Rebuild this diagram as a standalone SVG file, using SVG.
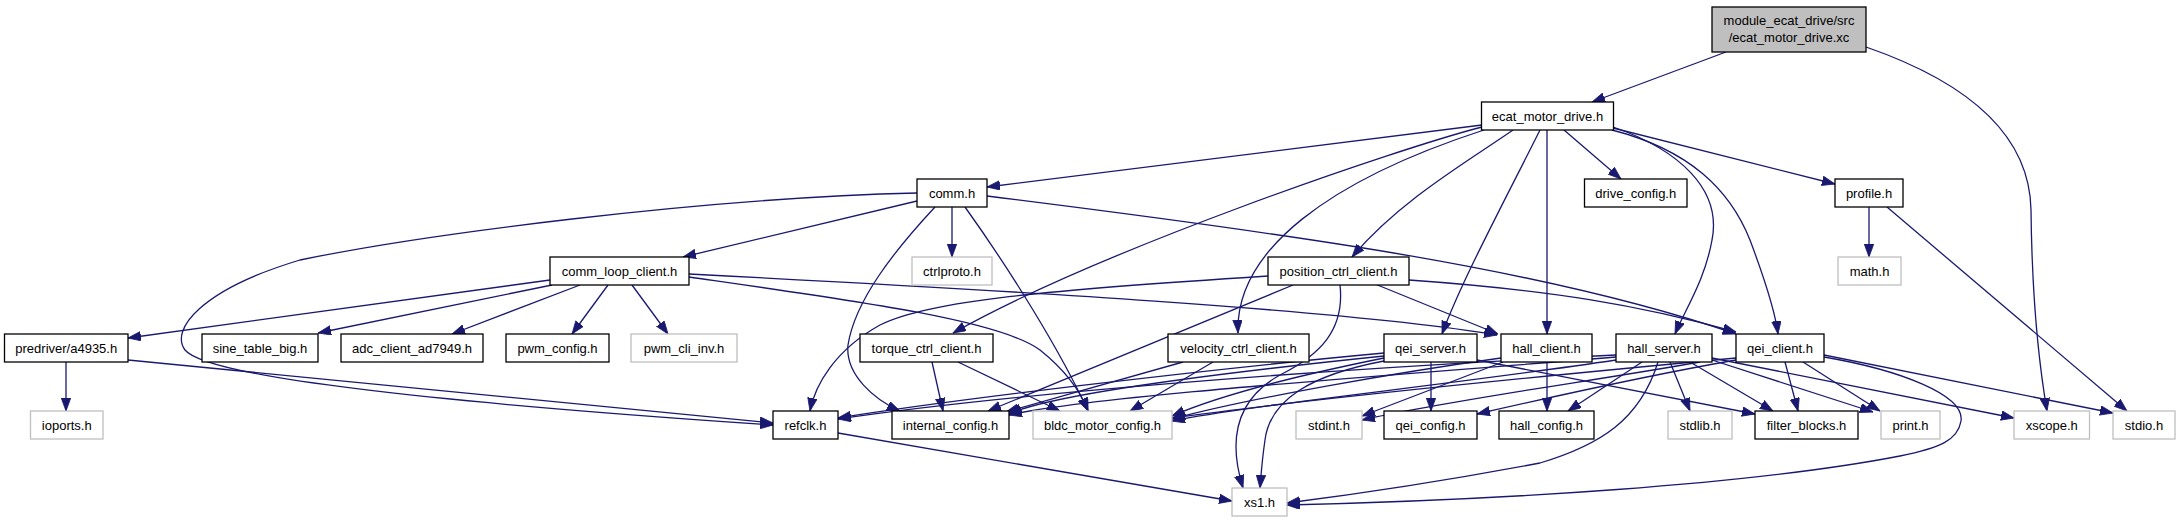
<svg xmlns="http://www.w3.org/2000/svg" width="2180" height="523" viewBox="0 0 2180 523">
<style>
.bg{fill:#ffffff}
.n rect{fill:#ffffff;stroke:#000000;stroke-width:1.3}
.x rect{fill:#ffffff;stroke:#bfbfbf;stroke-width:1.3}
.root rect{fill:#bfbfbf;stroke:#000000;stroke-width:1.3}
text{font-family:"Liberation Sans",Arial,Helvetica,sans-serif;font-size:13px;text-anchor:middle;fill:#000000}
#edges path{fill:none;stroke:#191970;stroke-width:1.3;marker-end:url(#ah)}
</style>
<defs>
<marker id="ah" markerUnits="userSpaceOnUse" markerWidth="14" markerHeight="10" refX="13" refY="4.75" orient="auto">
<path d="M0,0 L13,4.75 L0,9.5 z" fill="#191970" stroke="#191970" stroke-width="0.8"/>
</marker>
</defs>
<rect class="bg" x="0" y="0" width="2180" height="523"/>
<g id="edges">
<path d="M1726,52 L1592,102"/>
<path d="M1866,47 C1990,90 2030,150 2031,210 C2032,300 2040,370 2047,411"/>
<path d="M1482,125 L987,187"/>
<path d="M1564,130 L1621,179"/>
<path d="M1613,128 L1835,184"/>
<path d="M1513,130 C1470,160 1400,200 1352,257"/>
<path d="M1482,127 C1400,148 1100,250 953,333"/>
<path d="M1484,130 C1330,180 1235,250 1238,333"/>
<path d="M1540,130 C1505,200 1462,280 1442,334"/>
<path d="M1547,130 L1547,334"/>
<path d="M1613,127 C1680,150 1722,190 1712,240 C1705,280 1685,310 1675,334"/>
<path d="M1612,130 C1690,150 1730,190 1750,240 C1765,280 1775,310 1778,334"/>
<path d="M917,201 L683,257"/>
<path d="M952,207 L952,257"/>
<path d="M917,193 C700,198 420,235 300,260 C200,290 170,330 185,350 C205,375 400,400 773,425"/>
<path d="M935,207 C895,250 855,300 848,345 C845,375 875,400 900,411"/>
<path d="M965,207 C1010,270 1060,350 1088,411"/>
<path d="M987,196 C1300,235 1550,270 1736,334"/>
<path d="M1869,207 L1869,257"/>
<path d="M1887,207 L2127,411"/>
<path d="M550,280 L128,338"/>
<path d="M552,285 L318,333"/>
<path d="M580,285 L452,334"/>
<path d="M608,285 L572,334"/>
<path d="M632,285 L668,334"/>
<path d="M689,274 C1000,290 1350,310 1497,335"/>
<path d="M689,277 C850,300 1000,320 1040,350 C1065,370 1080,390 1088,411"/>
<path d="M1268,276 C1050,290 930,300 880,325 C835,350 815,385 810,411"/>
<path d="M1293,285 L988,411"/>
<path d="M1340,285 C1345,330 1320,355 1280,375 C1235,400 1228,440 1243,488"/>
<path d="M1375,284 L1498,334"/>
<path d="M1409,280 C1550,290 1640,305 1736,332"/>
<path d="M66,362 L66,411"/>
<path d="M128,360 L773,423"/>
<path d="M932,362 L943,411"/>
<path d="M958,362 L1060,411"/>
<path d="M1183,362 L1006,412"/>
<path d="M1213,362 L1130,411"/>
<path d="M1431,362 L1431,411"/>
<path d="M1477,360 L1755,414"/>
<path d="M1384,361 C1310,375 1270,400 1265,440 C1262,460 1261,475 1260,488"/>
<path d="M1384,353 C1200,370 950,400 838,418"/>
<path d="M1384,356 C1200,375 1050,395 1009,414"/>
<path d="M1384,358 C1300,375 1220,395 1172,416"/>
<path d="M1547,362 L1547,411"/>
<path d="M1503,362 L1362,416"/>
<path d="M1501,358 C1400,372 1250,398 1172,419"/>
<path d="M1616,355 C1300,370 1000,395 838,419"/>
<path d="M1616,357 C1400,375 1100,395 1009,415"/>
<path d="M1616,360 C1450,385 1250,405 1172,421"/>
<path d="M1700,362 C1600,380 1450,400 1362,420"/>
<path d="M1642,362 L1568,411"/>
<path d="M1658,362 C1640,420 1600,445 1540,463 C1450,480 1350,495 1287,503"/>
<path d="M1670,362 L1690,411"/>
<path d="M1690,362 L1773,411"/>
<path d="M1712,360 L1873,412"/>
<path d="M1712,358 L2014,418"/>
<path d="M1736,360 C1650,375 1560,395 1477,414"/>
<path d="M1736,358 C1500,380 1300,400 1172,418"/>
<path d="M1785,362 L1798,411"/>
<path d="M1803,362 L1880,411"/>
<path d="M1824,355 L2113,413"/>
<path d="M1824,357 C1900,370 1965,395 1961,421 C1958,440 1940,448 1900,456 C1750,485 1500,500 1287,505"/>
<path d="M838,433 L1232,501"/>
</g>
<g id="n_root" class="root"><rect x="1712" y="7" width="154" height="45"/><text x="1789" y="24.5">module_ecat_drive/src</text><text x="1789" y="41.5">/ecat_motor_drive.xc</text></g>
<g id="n_ecat_motor_drive" class="n"><rect x="1481.5" y="102" width="132" height="28"/><text x="1547.5" y="120.5">ecat_motor_drive.h</text></g>
<g id="n_comm" class="n"><rect x="917" y="179" width="70" height="28"/><text x="952" y="197.5">comm.h</text></g>
<g id="n_drive_config" class="n"><rect x="1584.5" y="179" width="102.5" height="28"/><text x="1635.75" y="197.5">drive_config.h</text></g>
<g id="n_profile" class="n"><rect x="1835" y="179" width="68" height="28"/><text x="1869" y="197.5">profile.h</text></g>
<g id="n_comm_loop_client" class="n"><rect x="550" y="257" width="139" height="28"/><text x="619.5" y="275.5">comm_loop_client.h</text></g>
<g id="n_ctrlproto" class="x"><rect x="912" y="257" width="80" height="28"/><text x="952" y="275.5">ctrlproto.h</text></g>
<g id="n_position_ctrl_client" class="n"><rect x="1268" y="257" width="141" height="28"/><text x="1338.5" y="275.5">position_ctrl_client.h</text></g>
<g id="n_math" class="x"><rect x="1838" y="257" width="63" height="28"/><text x="1869.5" y="275.5">math.h</text></g>
<g id="n_predriver" class="n"><rect x="4.5" y="334" width="123.5" height="28"/><text x="66.25" y="352.5">predriver/a4935.h</text></g>
<g id="n_sine_table_big" class="n"><rect x="202" y="334" width="116" height="28"/><text x="260" y="352.5">sine_table_big.h</text></g>
<g id="n_adc_client" class="n"><rect x="341" y="334" width="142" height="28"/><text x="412" y="352.5">adc_client_ad7949.h</text></g>
<g id="n_pwm_config" class="n"><rect x="506" y="334" width="103" height="28"/><text x="557.5" y="352.5">pwm_config.h</text></g>
<g id="n_pwm_cli_inv" class="x"><rect x="631" y="334" width="106" height="28"/><text x="684" y="352.5">pwm_cli_inv.h</text></g>
<g id="n_torque_ctrl_client" class="n"><rect x="860" y="334" width="133" height="28"/><text x="926.5" y="352.5">torque_ctrl_client.h</text></g>
<g id="n_velocity_ctrl_client" class="n"><rect x="1168" y="334" width="141" height="28"/><text x="1238.5" y="352.5">velocity_ctrl_client.h</text></g>
<g id="n_qei_server" class="n"><rect x="1384" y="334" width="93" height="28"/><text x="1430.5" y="352.5">qei_server.h</text></g>
<g id="n_hall_client" class="n"><rect x="1501" y="334" width="91" height="28"/><text x="1546.5" y="352.5">hall_client.h</text></g>
<g id="n_hall_server" class="n"><rect x="1616" y="334" width="96" height="28"/><text x="1664" y="352.5">hall_server.h</text></g>
<g id="n_qei_client" class="n"><rect x="1736" y="334" width="88" height="28"/><text x="1780" y="352.5">qei_client.h</text></g>
<g id="n_ioports" class="x"><rect x="30.5" y="411" width="72.5" height="28"/><text x="66.75" y="429.5">ioports.h</text></g>
<g id="n_refclk" class="n"><rect x="773" y="411" width="65" height="28"/><text x="805.5" y="429.5">refclk.h</text></g>
<g id="n_internal_config" class="n"><rect x="892" y="411" width="117" height="28"/><text x="950.5" y="429.5">internal_config.h</text></g>
<g id="n_bldc_motor_config" class="x"><rect x="1033" y="411" width="139" height="28"/><text x="1102.5" y="429.5">bldc_motor_config.h</text></g>
<g id="n_stdint" class="x"><rect x="1296" y="411" width="66" height="28"/><text x="1329" y="429.5">stdint.h</text></g>
<g id="n_qei_config" class="n"><rect x="1384" y="411" width="93" height="28"/><text x="1430.5" y="429.5">qei_config.h</text></g>
<g id="n_hall_config" class="n"><rect x="1499" y="411" width="95" height="28"/><text x="1546.5" y="429.5">hall_config.h</text></g>
<g id="n_stdlib" class="x"><rect x="1668" y="411" width="64" height="28"/><text x="1700" y="429.5">stdlib.h</text></g>
<g id="n_filter_blocks" class="n"><rect x="1755" y="411" width="103" height="28"/><text x="1806.5" y="429.5">filter_blocks.h</text></g>
<g id="n_print" class="x"><rect x="1881" y="411" width="59" height="28"/><text x="1910.5" y="429.5">print.h</text></g>
<g id="n_xscope" class="x"><rect x="2014" y="411" width="75.5" height="28"/><text x="2051.75" y="429.5">xscope.h</text></g>
<g id="n_stdio" class="x"><rect x="2113" y="411" width="62" height="28"/><text x="2144" y="429.5">stdio.h</text></g>
<g id="n_xs1" class="x"><rect x="1232" y="488" width="55" height="28"/><text x="1259.5" y="506.5">xs1.h</text></g>
</svg>
